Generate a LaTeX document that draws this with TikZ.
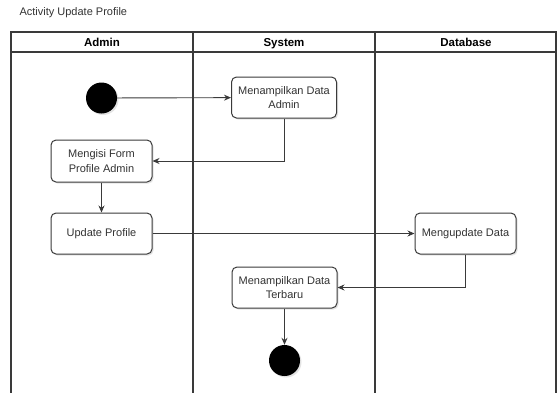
\documentclass[tikz,border=0pt]{standalone}
\usepackage{fontspec}
\setmainfont{Liberation Sans}
\usetikzlibrary{arrows.meta,shadows}
\definecolor{linegray}{HTML}{3A3A3A}
\definecolor{textgray}{HTML}{333333}
\begin{document}
\begin{tikzpicture}[x=1pt,y=-1pt,
  lane/.style={draw=linegray,line width=1.1pt},
  actbox/.style={draw=linegray,line width=1pt,rounded corners=5pt,fill=white,
    text=textgray,align=center,inner sep=0pt,
    font=\fontsize{11}{14.5}\selectfont,
    drop shadow={shadow xshift=1.5pt,shadow yshift=-1.5pt,opacity=0.22}},
  dot/.style={circle,fill=black,inner sep=0pt,minimum size=31pt,
    drop shadow={shadow xshift=1.5pt,shadow yshift=-1.5pt,opacity=0.22}},
  flow/.style={draw=linegray,line width=0.9pt,-{Stealth[length=7pt,width=6pt]}},
  lanehead/.style={font=\fontsize{11.5}{14}\selectfont\bfseries,text=black,
    text height=8.5pt,text depth=2.5pt,inner sep=0pt}]
\clip (0,0) rectangle (559,392);
\fill[white] (0,0) rectangle (559,392);

% title
\node[anchor=west,text=textgray,font=\fontsize{11}{13}\selectfont] (title) at (16,13) {Activity Update Profile};

% swimlane pool
\draw[lane] (11,32) rectangle (556,400);
\draw[lane] (11,52) -- (556,52);
\draw[lane] (193,32) -- (193,400);
\draw[lane] (375,32) -- (375,400);
\node[lanehead] (hadmin) at (102,43) {Admin};
\node[lanehead] (hsystem) at (284,43) {System};
\node[lanehead] (hdb) at (466,43) {Database};

% activities
\node[dot] (start) at (101.5,98) {};
\node[actbox,minimum width=105pt,minimum height=41pt] (tampil) at (284,97.5) {Menampilkan Data\\Admin};
\node[actbox,minimum width=101pt,minimum height=42pt] (isi) at (101.5,161) {Mengisi Form\\Profile Admin};
\node[actbox,minimum width=101pt,minimum height=41pt] (update) at (101.5,233.5) {Update Profile};
\node[actbox,minimum width=101pt,minimum height=41pt] (dbupdate) at (465.5,233.5) {Mengupdate Data};
\node[actbox,minimum width=105pt,minimum height=41pt] (terbaru) at (284.5,287.5) {Menampilkan Data\\Terbaru};
\node[dot] (end) at (284.5,360.5) {};

% control flow
\draw[flow] (start) -- (tampil);
\draw[flow] (tampil.south) |- (isi.east);
\draw[flow] (isi) -- (update);
\draw[flow] (update) -- (dbupdate);
\draw[flow] (dbupdate.south) |- (terbaru.east);
\draw[flow] (terbaru) -- (end);
\end{tikzpicture}
\end{document}
